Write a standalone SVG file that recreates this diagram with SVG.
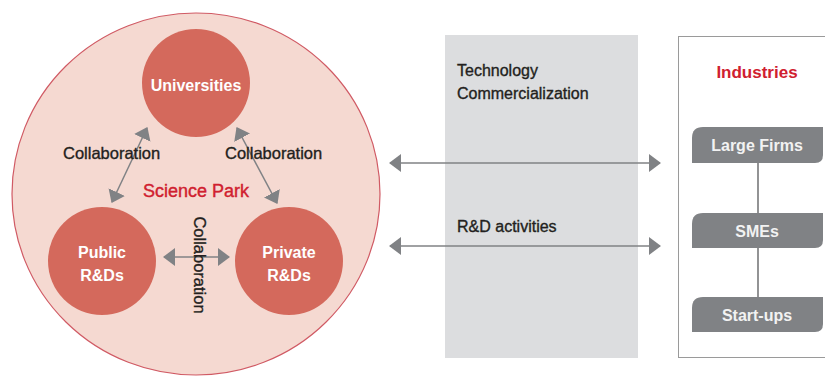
<svg xmlns="http://www.w3.org/2000/svg" width="825" height="376" viewBox="0 0 825 376">
<defs>
<style>
.t{font-family:"Liberation Sans",Arial,sans-serif;}
.dark{fill:#231f20;font-size:16px;stroke:#231f20;stroke-width:0.35;}
.collab{fill:#231f20;font-size:16.5px;stroke:#231f20;stroke-width:0.35;}
.node{fill:#d4695c;}
.nl{fill:#ffffff;font-size:16px;font-weight:bold;text-anchor:middle;}
.red{fill:#d0202f;}
.conn{stroke:#808285;stroke-width:1.5;fill:none;marker-start:url(#ah);marker-end:url(#ah);}
.tab{fill:#808285;}
.tl{fill:#f2f2f2;font-size:16px;font-weight:bold;text-anchor:middle;}
.vline{stroke:#58595b;stroke-width:1.3;}
</style>
<marker id="ah" viewBox="0 0 12 18" refX="11" refY="9" markerWidth="12" markerHeight="18" markerUnits="userSpaceOnUse" orient="auto-start-reverse">
<path d="M0,0 L12,9 L0,18 Z" fill="#808285"/>
</marker>
</defs>
<rect width="825" height="376" fill="#ffffff"/>

<g id="science-park">
<ellipse cx="196" cy="194" rx="184" ry="181" fill="#f5d9d1" stroke="#d05a64" stroke-width="1.2"/>
<text class="t red" x="196" y="197" font-size="18" text-anchor="middle" stroke="#d0202f" stroke-width="0.4">Science Park</text>
</g>

<g id="middle-band">
<rect x="445" y="35" width="193" height="323" fill="#dcdddf"/>
<text class="t dark" x="457" y="76">Technology</text>
<text class="t dark" x="457" y="99">Commercialization</text>
<text class="t dark" x="457" y="232">R&amp;D activities</text>
</g>

<g id="industries">
<rect x="678.5" y="36.5" width="160" height="321" fill="#ffffff" stroke="#9a9a9a" stroke-width="1"/>
<text class="t red" x="757" y="78" font-size="17" font-weight="bold" text-anchor="middle">Industries</text>
</g>

<g id="connectors">
<line class="conn" x1="112" y1="202" x2="147" y2="128"/>
<line class="conn" x1="277" y1="203" x2="237" y2="128"/>
<line class="conn" x1="164" y1="257" x2="229" y2="257"/>
<line class="conn" x1="390" y1="163" x2="660" y2="163"/>
<line class="conn" x1="390" y1="246" x2="660" y2="246"/>
<line class="vline" x1="758" y1="163" x2="758" y2="213"/>
<line class="vline" x1="758" y1="248" x2="758" y2="297"/>
</g>

<g id="collab-labels">
<text class="t collab" x="63" y="159">Collaboration</text>
<text class="t collab" x="225" y="159">Collaboration</text>
<text class="t collab" transform="translate(194,265) rotate(90)" text-anchor="middle">Collaboration</text>
</g>

<g id="universities">
<circle class="node" cx="196" cy="83" r="54"/>
<text class="t nl" x="196" y="91">Universities</text>
</g>

<g id="public-rds">
<circle class="node" cx="102" cy="261" r="54"/>
<text class="t nl" x="102" y="258">Public</text>
<text class="t nl" x="102" y="281">R&amp;Ds</text>
</g>

<g id="private-rds">
<circle class="node" cx="289" cy="261" r="54"/>
<text class="t nl" x="289" y="258">Private</text>
<text class="t nl" x="289" y="281">R&amp;Ds</text>
</g>

<g id="large-firms">
<path class="tab" d="M703,127 H823 V155 Q823,163 815,163 H692 V138 Q692,127 703,127 Z"/>
<text class="t tl" x="757" y="151">Large Firms</text>
</g>

<g id="smes">
<path class="tab" d="M703,213 H823 V240 Q823,248 815,248 H692 V224 Q692,213 703,213 Z"/>
<text class="t tl" x="757" y="237">SMEs</text>
</g>

<g id="start-ups">
<path class="tab" d="M703,297 H823 V324 Q823,332 815,332 H692 V308 Q692,297 703,297 Z"/>
<text class="t tl" x="757" y="321">Start-ups</text>
</g>
</svg>
